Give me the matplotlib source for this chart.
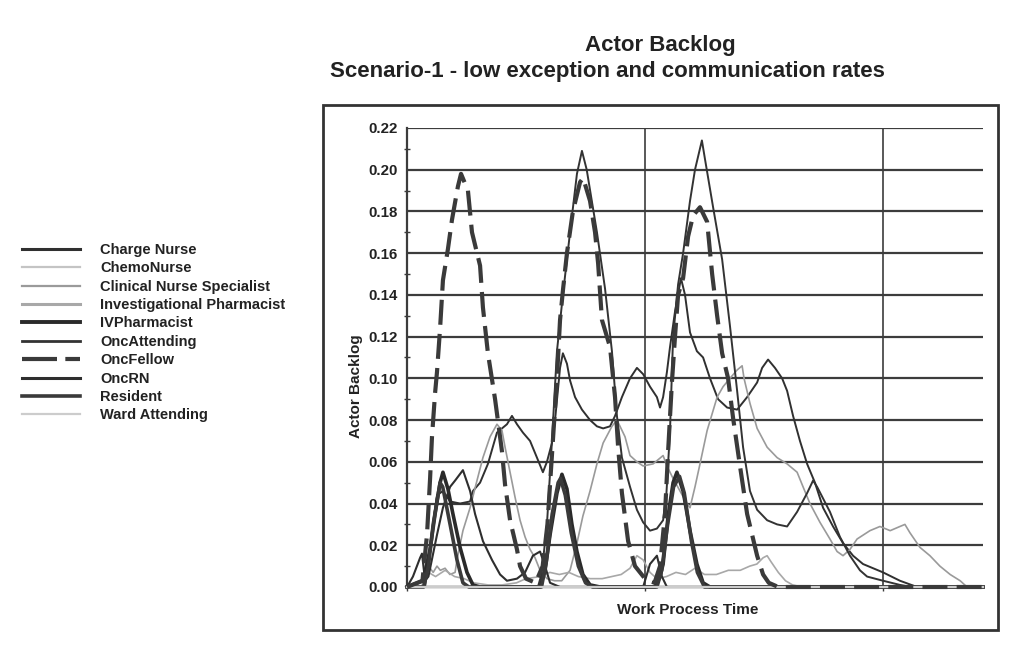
import numpy as np
import matplotlib
matplotlib.use("Agg")
import matplotlib.pyplot as plt
from matplotlib.lines import Line2D
from matplotlib.patches import Rectangle

plt.rcParams['font.family'] = ['Liberation Sans', 'DejaVu Sans']
plt.rcParams['font.weight'] = 'bold'

# data (x in work process time units, gridlines at 100 / 200)
charge_nurse_x = [0, 7.6, 9.7, 12.6, 15.1, 18.1, 22.3, 26.5, 27.7, 30.7, 34.0, 37.8, 42.0, 44.1, 46.2,
                  48.7, 51.7, 54.6, 57.1, 58.8, 60.9, 62.2, 64.3, 65.5, 67.2, 68.5, 70.6, 73.5, 76.9, 79.8,
                  82.4, 85.3, 87.4, 90.3, 93.7, 96.6, 99.2, 102.1, 105.0, 106.3, 107.6, 109.2, 110.5, 112.6,
                  115.1, 116.8, 118.9, 121.8, 124.4, 127.3, 130.7, 134.5, 138.7, 142.9, 147.1, 149.2, 151.7,
                  154.6, 157.6, 159.7, 162.2, 165.1, 168.1, 171.4, 174.8, 179.0, 183.2, 187.4, 191.6, 200.0,
                  207.1, 214.3, 242]
charge_nurse_y = [0, 0, 0.020, 0.044, 0.046, 0.041, 0.040, 0.041, 0.046, 0.050, 0.059, 0.074, 0.078, 0.082,
                  0.078, 0.074, 0.070, 0.062, 0.055, 0.060, 0.069, 0.080, 0.105, 0.112, 0.107, 0.099, 0.091,
                  0.085, 0.080, 0.077, 0.076, 0.077, 0.082, 0.091, 0.100, 0.105, 0.102, 0.096, 0.091, 0.086,
                  0.091, 0.103, 0.115, 0.132, 0.148, 0.140, 0.122, 0.113, 0.110, 0.100, 0.090, 0.086, 0.085,
                  0.091, 0.098, 0.105, 0.109, 0.105, 0.100, 0.094, 0.082, 0.070, 0.059, 0.050, 0.038, 0.029,
                  0.021, 0.015, 0.011, 0.007, 0.003, 0, 0]

chemo_nurse_x = [0, 60, 120, 180, 242]
chemo_nurse_y = [0, 0, 0, 0, 0]

cns_x = [0, 6.0, 8.4, 9.7, 11.0, 12.6, 14.0, 16.0, 18.0, 20.2, 21.0, 23.5, 26.5, 29.4, 31.9, 34.9, 37.8,
         39.9, 41.2, 43.3, 45.4, 47.5, 49.6, 51.7, 53.8, 55.9, 58.8, 62.0, 65.0, 68.5, 71.4, 73.9, 76.9,
         79.8, 82.4, 86.1, 88.2, 89.5, 91.6, 93.7, 96.6, 99.2, 103.4, 107.6, 109.2, 111.8, 114.7, 117.6,
         118.9, 121.0, 123.1, 126.1, 130.3, 132.8, 135.7, 138.7, 140.8, 141.6, 144.1, 147.1, 151.3, 155.5,
         159.7, 163.9, 166.4, 169.3, 173.5, 177.7, 180.7, 183.2, 186.1, 189.1, 194.5, 198.7, 203.0, 207.1,
         209.2, 211.3, 215.5, 219.7, 223.9, 228.2, 232.4, 235.3, 242]
cns_y = [0, 0, 0.006, 0.009, 0.007, 0.010, 0.008, 0.009, 0.006, 0.007, 0.013, 0.027, 0.038, 0.051, 0.062,
         0.072, 0.078, 0.075, 0.067, 0.055, 0.043, 0.032, 0.024, 0.018, 0.014, 0.008, 0.004, 0.003, 0.003,
         0.008, 0.021, 0.034, 0.046, 0.059, 0.069, 0.077, 0.080, 0.077, 0.072, 0.063, 0.060, 0.058, 0.059,
         0.063, 0.058, 0.052, 0.046, 0.040, 0.038, 0.048, 0.059, 0.075, 0.091, 0.096, 0.100, 0.104, 0.106,
         0.100, 0.088, 0.076, 0.067, 0.062, 0.059, 0.055, 0.048, 0.040, 0.031, 0.023, 0.017, 0.015, 0.018,
         0.023, 0.027, 0.029, 0.027, 0.029, 0.030, 0.026, 0.019, 0.015, 0.010, 0.006, 0.003, 0, 0]

inv_pharm_x = [0, 5, 9, 12, 16, 20, 24, 28, 34, 40, 46, 50, 56, 60, 64, 68, 72, 77, 82, 86, 90, 93.7, 96.6,
               99.2, 102.1, 105, 109, 113, 117, 121, 125, 130, 135, 140, 144, 147, 149.6, 151.3, 153, 156,
               159, 162, 166, 242]
inv_pharm_y = [0, 0.002, 0.007, 0.005, 0.008, 0.005, 0.004, 0.002, 0.001, 0.001, 0.002, 0.004, 0.005, 0.007,
               0.006, 0.007, 0.005, 0.004, 0.004, 0.005, 0.006, 0.009, 0.015, 0.013, 0.007, 0.004, 0.005,
               0.007, 0.006, 0.009, 0.006, 0.006, 0.008, 0.008, 0.010, 0.011, 0.014, 0.015, 0.012, 0.007,
               0.003, 0.001, 0, 0]

iv_pharm_x = [0, 6.7, 9.7, 11.8, 13.9, 15.1, 17.2, 19.3, 22.3, 25.2, 27.7, 30.7, 55.9, 58.0, 60.1, 63.0,
              65.1, 67.2, 69.3, 71.4, 73.9, 76.9, 81.1, 104.2, 106.3, 107.6, 109.7, 111.8, 113.4, 116.0,
              118.9, 121.8, 124.4, 127.3, 242]
iv_pharm_y = [0, 0.003, 0.018, 0.035, 0.050, 0.055, 0.047, 0.035, 0.019, 0.007, 0.001, 0, 0, 0.008, 0.025,
              0.045, 0.054, 0.047, 0.030, 0.017, 0.006, 0.001, 0, 0, 0.005, 0.011, 0.034, 0.050, 0.055,
              0.046, 0.027, 0.011, 0.002, 0, 0]

onc_attending_x = [0, 55.0, 56.5, 58.8, 60.9, 63.0, 65.5, 68.5, 71.4, 73.5, 75.5, 79.8, 83.2, 86.1, 88.2,
                   90.3, 93.7, 96.6, 99.2, 102.1, 105.0, 107.6, 109.0, 110.5, 111.8, 113.9, 116.0, 118.9,
                   121.0, 123.9, 125.2, 128.6, 132.4, 135.7, 138.7, 141.2, 144.1, 147.1, 151.3, 155.5, 159.7,
                   163.9, 168.1, 170.6, 172.3, 177.7, 181.9, 186.1, 190.3, 193.3, 200.0, 207.1, 212.0, 242]
onc_attending_y = [0, 0, 0.006, 0.030, 0.070, 0.113, 0.140, 0.170, 0.198, 0.209, 0.200, 0.170, 0.143,
                   0.113, 0.082, 0.062, 0.048, 0.037, 0.031, 0.027, 0.028, 0.032, 0.045, 0.075, 0.120, 0.145,
                   0.160, 0.185, 0.200, 0.214, 0.205, 0.182, 0.157, 0.125, 0.094, 0.067, 0.046, 0.037, 0.032,
                   0.030, 0.029, 0.036, 0.045, 0.051, 0.048, 0.036, 0.024, 0.015, 0.008, 0.005, 0.003, 0.001,
                   0, 0]

onc_fellow_x = [0, 6.5, 8.4, 9.7, 10.5, 11.8, 12.6, 13.9, 15.1, 17.2, 18.9, 21.4, 22.7, 25.6, 27.3, 30.7,
                31.9, 34.0, 37.0, 39.9, 41.2, 43.3, 46.2, 47.5, 50.0, 54.0, 57.0, 59.0, 61.0, 63.0, 64.3,
                65.5, 67.2, 69.7, 72.7, 74.0, 76.9, 79.0, 80.3, 81.9, 85.3, 87.4, 88.7, 90.3, 92.9, 95.8,
                100.0, 104.0, 106.3, 108.4, 109.7, 111.3, 112.6, 113.9, 116.0, 118.1, 120.2, 123.1, 126.1,
                128.2, 130.3, 132.4, 134.9, 137.0, 139.9, 142.9, 147.1, 149.6, 152.0, 156.0, 242]
onc_fellow_y = [0, 0.003, 0.025, 0.052, 0.072, 0.093, 0.103, 0.124, 0.147, 0.162, 0.176, 0.192, 0.198,
                0.190, 0.170, 0.154, 0.134, 0.112, 0.090, 0.065, 0.049, 0.032, 0.018, 0.010, 0.004, 0.002,
                0.010, 0.030, 0.065, 0.100, 0.128, 0.142, 0.160, 0.180, 0.194, 0.196, 0.185, 0.170, 0.155,
                0.128, 0.115, 0.091, 0.067, 0.045, 0.022, 0.010, 0.004, 0.002, 0.010, 0.035, 0.065, 0.098,
                0.120, 0.140, 0.148, 0.168, 0.178, 0.182, 0.175, 0.150, 0.130, 0.112, 0.100, 0.081, 0.058,
                0.035, 0.015, 0.006, 0.002, 0, 0]

onc_rn_x = [0, 2.5, 5.5, 6.3, 7.6, 9.0, 12.6, 15.1, 18.1, 20.2, 23.5, 26.5, 28.6, 31.9, 35.7, 39.1, 42.0,
            46.2, 49.6, 52.9, 55.9, 58.0, 60.1, 64.3, 99.2, 102.1, 105.0, 107.1, 109.2, 242]
onc_rn_y = [0, 0.005, 0.014, 0.016, 0.003, 0.005, 0.025, 0.038, 0.048, 0.051, 0.056, 0.046, 0.035, 0.022,
            0.013, 0.006, 0.003, 0.004, 0.007, 0.015, 0.017, 0.010, 0.002, 0, 0, 0.011, 0.015, 0.005, 0, 0]

resident_x = [0, 7.0, 9.0, 11.0, 13.9, 15.0, 18.1, 21.0, 23.5, 26.0, 56.5, 58.5, 61.0, 63.5, 64.5, 66.5,
              69.0, 72.0, 75.0, 78.0, 105.0, 107.0, 109.5, 112.0, 114.5, 116.5, 119.5, 122.0, 125.0, 242]
resident_y = [0, 0, 0.010, 0.030, 0.050, 0.048, 0.030, 0.013, 0.002, 0, 0, 0.012, 0.035, 0.050, 0.052,
              0.044, 0.026, 0.010, 0.002, 0, 0, 0.008, 0.030, 0.048, 0.053, 0.045, 0.022, 0.007, 0, 0]

ward_attending_x = [0, 60, 120, 180, 242]
ward_attending_y = [0, 0, 0, 0, 0]

y_ticks = np.arange(0, 0.221, 0.02)

# (label, x, y, color, linewidth, dashes, legend width)
series = [
    ("Charge Nurse", charge_nurse_x, charge_nurse_y, "#303030", 1.4, None, 2.2),
    ("ChemoNurse", chemo_nurse_x, chemo_nurse_y, "#c4c4c4", 1.6, None, 1.6),
    ("Clinical Nurse Specialist", cns_x, cns_y, "#9a9a9a", 1.2, None, 1.6),
    ("Investigational Pharmacist", inv_pharm_x, inv_pharm_y, "#a8a8a8", 1.2, None, 2.2),
    ("IVPharmacist", iv_pharm_x, iv_pharm_y, "#2a2a2a", 2.6, None, 2.8),
    ("OncAttending", onc_attending_x, onc_attending_y, "#333333", 1.4, None, 2.0),
    ("OncFellow", onc_fellow_x, onc_fellow_y, "#3a3a3a", 3.0, (6, 2.2), 3.0),
    ("OncRN", onc_rn_x, onc_rn_y, "#2e2e2e", 1.5, None, 2.2),
    ("Resident", resident_x, resident_y, "#3a3a3a", 2.6, None, 2.6),
    ("Ward Attending", ward_attending_x, ward_attending_y, "#cccccc", 1.6, None, 1.6),
]

fig = plt.figure(figsize=(10.17, 6.49), dpi=100)
W, H = 1017.0, 649.0
ax = fig.add_axes([407 / W, 1 - 587 / H, 576 / W, 459.5 / H])

grid_c = "#3c3c3c"
handles = []
for label, xs, ys, c, lw, dashes, lw_leg in series:
    if dashes:
        ax.plot(xs, ys, color=c, lw=lw, dashes=dashes, clip_on=False, zorder=4)
        handles.append(Line2D([], [], color=c, lw=lw_leg, dashes=(8.4, 2)))
    else:
        ax.plot(xs, ys, color=c, lw=lw, clip_on=False, zorder=3)
        handles.append(Line2D([], [], color=c, lw=lw_leg))

ax.set_xlim(0, 242)
ax.set_ylim(0, 0.2202)
ax.set_yticks(y_ticks)
ax.set_yticklabels(["%.2f" % v for v in y_ticks])
ax.set_yticks(y_ticks[:-1] + 0.01, minor=True)
ax.set_xticks([0, 100, 200])
ax.set_xticklabels([])
ax.tick_params(axis='y', which='major', length=0, pad=7, labelsize=10.8, labelcolor="#222222")
ax.tick_params(axis='y', which='minor', direction='inout', length=5, width=1, color=grid_c)
ax.tick_params(axis='x', which='major', direction='out', length=3, width=1, color=grid_c)

ax.set_axisbelow(True)
ax.grid(axis='y', which='major', color=grid_c, lw=1.6)
ax.grid(axis='x', which='major', color=grid_c, lw=1.2)
for s in ('top', 'right'):
    ax.spines[s].set_visible(False)
ax.spines['left'].set_color(grid_c)
ax.spines['left'].set_linewidth(1.6)
ax.spines['bottom'].set_color(grid_c)
ax.spines['bottom'].set_linewidth(1.6)

# outer chart frame
fig.patches.append(Rectangle((323 / W, 1 - 630 / H), 675 / W, 525 / H, transform=fig.transFigure,
                             fill=False, lw=2.0, ec="#333333"))

fig.text(660 / W, 1 - 45 / H, "Actor Backlog", ha='center', va='center', fontsize=16, color="#222222")
fig.text(607 / W, 1 - 71 / H, "Scenario-1 - low exception and communication rates", ha='center',
         va='center', fontsize=16, color="#222222")
fig.text(356 / W, 1 - 386 / H, "Actor Backlog", rotation=90, ha='center', va='center', fontsize=11,
         color="#222222")
fig.text(688 / W, 1 - 610 / H, "Work Process Time", ha='center', va='center', fontsize=11, color="#222222")

fig.legend(handles, [s[0] for s in series], loc='upper left', bbox_to_anchor=(22 / W, 1 - 243 / H),
           frameon=False, fontsize=10.5, handlelength=4.0, handletextpad=1.35, labelspacing=0.3,
           borderpad=0, borderaxespad=0, labelcolor="#222222")

fig.savefig("out.png", dpi=100, facecolor="white")
